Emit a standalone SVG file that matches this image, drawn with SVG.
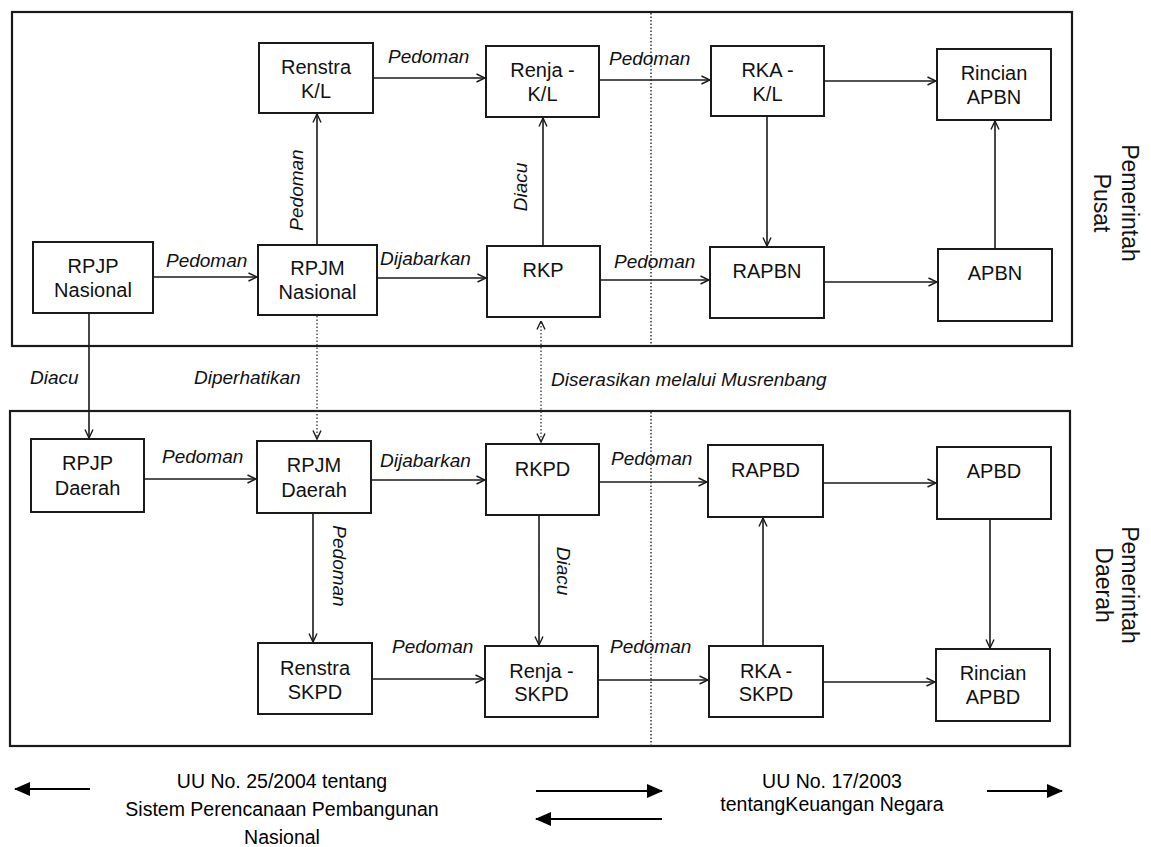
<svg xmlns="http://www.w3.org/2000/svg" width="1151" height="847" viewBox="0 0 1151 847">
<style>
.box{fill:#fff;stroke:#1a1a1a;stroke-width:2}
.frame{fill:none;stroke:#1a1a1a;stroke-width:2.2}
.nt{font-family:"Liberation Sans",Arial,sans-serif;font-size:20px;fill:#111;text-anchor:middle}
.lb{font-family:"Liberation Sans",Arial,sans-serif;font-size:19px;font-style:italic;fill:#111}
.lbm{font-family:"Liberation Sans",Arial,sans-serif;font-size:19px;font-style:italic;fill:#111;text-anchor:middle}
.side{font-family:"Liberation Sans",Arial,sans-serif;font-size:23px;fill:#111;text-anchor:middle}
.ft{font-family:"Liberation Sans",Arial,sans-serif;font-size:19.5px;fill:#000;text-anchor:middle}
.c{fill:none;stroke:#1a1a1a;stroke-width:1.6;marker-end:url(#ah)}
.d{fill:none;stroke:#333;stroke-width:1.3;stroke-dasharray:1.5 2;marker-end:url(#ah)}
.sep{fill:none;stroke:#333;stroke-width:1.5;stroke-dasharray:1.5 2}
.fa{fill:none;stroke:#000;stroke-width:2;marker-end:url(#fh)}
</style>
<defs>
<marker id="ah" viewBox="0 0 10 10" refX="9.5" refY="5" markerWidth="10" markerHeight="10" markerUnits="userSpaceOnUse" orient="auto">
<path d="M1,1 L9.5,5 L1,9" fill="none" stroke="#1a1a1a" stroke-width="1.4"/>
</marker>
<marker id="fh" viewBox="0 0 16 14" refX="15" refY="7" markerWidth="16" markerHeight="14" markerUnits="userSpaceOnUse" orient="auto">
<path d="M0,0 L16,7 L0,14 Z" fill="#000"/>
</marker>
</defs>
<rect width="1151" height="847" fill="#fff"/>

<g id="frames">
<rect class="frame" x="12" y="12" width="1060" height="334"/>
<rect class="frame" x="10" y="411" width="1060" height="335"/>
<line class="sep" x1="651" y1="13" x2="651" y2="346"/>
<line class="sep" x1="651" y1="412" x2="651" y2="748"/>
</g>

<g id="connectors">
<line class="c" x1="153" y1="277" x2="257" y2="277"/>
<line class="c" x1="377" y1="278" x2="486" y2="278"/>
<line class="c" x1="600" y1="280" x2="709" y2="280"/>
<line class="c" x1="824" y1="282" x2="937" y2="282"/>
<line class="c" x1="995" y1="249" x2="995" y2="121"/>
<line class="c" x1="824" y1="81" x2="936" y2="81"/>
<line class="c" x1="767" y1="116" x2="767" y2="246"/>
<line class="c" x1="599" y1="80" x2="710" y2="80"/>
<line class="c" x1="373" y1="78" x2="485" y2="78"/>
<line class="c" x1="317" y1="245" x2="317" y2="114"/>
<line class="c" x1="543" y1="246" x2="543" y2="118"/>
<line class="c" x1="89" y1="313" x2="89" y2="438"/>
<line class="d" x1="317" y1="316" x2="317" y2="439"/>
<line class="d" x1="541" y1="380" x2="541" y2="321"/>
<line class="d" x1="541" y1="380" x2="541" y2="442"/>
<line class="c" x1="144" y1="479" x2="256" y2="479"/>
<line class="c" x1="371" y1="480" x2="485" y2="480"/>
<line class="c" x1="599" y1="482" x2="707" y2="482"/>
<line class="c" x1="823" y1="483" x2="936" y2="483"/>
<line class="c" x1="990" y1="519" x2="990" y2="648"/>
<line class="c" x1="313" y1="513" x2="313" y2="642"/>
<line class="c" x1="539" y1="515" x2="539" y2="645"/>
<line class="c" x1="372" y1="679" x2="484" y2="679"/>
<line class="c" x1="598" y1="680" x2="708" y2="680"/>
<line class="c" x1="763" y1="646" x2="763" y2="518"/>
<line class="c" x1="823" y1="682" x2="935" y2="682"/>
</g>

<g id="labels">
<text class="lb" x="388" y="63">Pedoman</text>
<text class="lb" x="609" y="65">Pedoman</text>
<text class="lb" x="166" y="267">Pedoman</text>
<text class="lb" x="380" y="265">Dijabarkan</text>
<text class="lb" x="614" y="268">Pedoman</text>
<text class="lbm" transform="translate(303,190) rotate(-90)">Pedoman</text>
<text class="lbm" transform="translate(527,187) rotate(-90)">Diacu</text>
<text class="lb" x="30" y="384">Diacu</text>
<text class="lb" x="194" y="384">Diperhatikan</text>
<text class="lb" x="551" y="386">Diserasikan melalui Musrenbang</text>
<text class="lb" x="162" y="463">Pedoman</text>
<text class="lb" x="380" y="467">Dijabarkan</text>
<text class="lb" x="611" y="465">Pedoman</text>
<text class="lbm" transform="translate(333,566) rotate(90)">Pedoman</text>
<text class="lbm" transform="translate(557,571) rotate(90)">Diacu</text>
<text class="lb" x="392" y="653">Pedoman</text>
<text class="lb" x="610" y="653">Pedoman</text>
<text class="side" transform="translate(1122,203) rotate(90)">Pemerintah</text>
<text class="side" transform="translate(1094,203) rotate(90)">Pusat</text>
<text class="side" transform="translate(1122,585) rotate(90)">Pemerintah</text>
<text class="side" transform="translate(1096,585) rotate(90)">Daerah</text>
</g>

<g id="renstra-kl"><rect class="box" x="259" y="43" width="114" height="70"/><text class="nt" x="316" y="74">Renstra</text><text class="nt" x="316" y="98">K/L</text></g>
<g id="renja-kl"><rect class="box" x="486" y="46" width="113" height="71"/><text class="nt" x="542.5" y="77">Renja -</text><text class="nt" x="542.5" y="101">K/L</text></g>
<g id="rka-kl"><rect class="box" x="711" y="46" width="113" height="70"/><text class="nt" x="767.5" y="77">RKA -</text><text class="nt" x="767.5" y="101">K/L</text></g>
<g id="rincian-apbn"><rect class="box" x="937" y="49" width="114" height="71"/><text class="nt" x="994" y="80">Rincian</text><text class="nt" x="994" y="104">APBN</text></g>
<g id="rpjp-nasional"><rect class="box" x="33" y="242" width="120" height="71"/><text class="nt" x="93" y="273">RPJP</text><text class="nt" x="93" y="297">Nasional</text></g>
<g id="rpjm-nasional"><rect class="box" x="258" y="245" width="119" height="70"/><text class="nt" x="317.5" y="275">RPJM</text><text class="nt" x="317.5" y="299">Nasional</text></g>
<g id="rkp"><rect class="box" x="487" y="246" width="113" height="71"/><text class="nt" x="543" y="277">RKP</text></g>
<g id="rapbn"><rect class="box" x="710" y="247" width="114" height="71"/><text class="nt" x="767" y="278">RAPBN</text></g>
<g id="apbn"><rect class="box" x="938" y="249" width="114" height="72"/><text class="nt" x="995" y="280">APBN</text></g>

<g id="rpjp-daerah"><rect class="box" x="31" y="439" width="113" height="73"/><text class="nt" x="87.5" y="470">RPJP</text><text class="nt" x="87.5" y="495">Daerah</text></g>
<g id="rpjm-daerah"><rect class="box" x="257" y="441" width="114" height="72"/><text class="nt" x="314" y="472">RPJM</text><text class="nt" x="314" y="497">Daerah</text></g>
<g id="rkpd"><rect class="box" x="486" y="444" width="113" height="71"/><text class="nt" x="542.5" y="476">RKPD</text></g>
<g id="rapbd"><rect class="box" x="708" y="445" width="115" height="72"/><text class="nt" x="765.5" y="477">RAPBD</text></g>
<g id="apbd"><rect class="box" x="937" y="447" width="114" height="72"/><text class="nt" x="994" y="478">APBD</text></g>
<g id="renstra-skpd"><rect class="box" x="258" y="643" width="114" height="71"/><text class="nt" x="315" y="675">Renstra</text><text class="nt" x="315" y="699">SKPD</text></g>
<g id="renja-skpd"><rect class="box" x="485" y="646" width="113" height="71"/><text class="nt" x="541.5" y="678">Renja -</text><text class="nt" x="541.5" y="701">SKPD</text></g>
<g id="rka-skpd"><rect class="box" x="709" y="646" width="114" height="71"/><text class="nt" x="766" y="678">RKA -</text><text class="nt" x="766" y="701">SKPD</text></g>
<g id="rincian-apbd"><rect class="box" x="936" y="649" width="114" height="72"/><text class="nt" x="993" y="680">Rincian</text><text class="nt" x="993" y="704">APBD</text></g>

<g id="footer">
<line class="fa" x1="90" y1="789" x2="15" y2="789"/>
<line class="fa" x1="536" y1="791" x2="662" y2="791"/>
<line class="fa" x1="662" y1="819" x2="536" y2="819"/>
<line class="fa" x1="987" y1="791" x2="1062" y2="791"/>
<text class="ft" x="282" y="788">UU No. 25/2004 tentang</text>
<text class="ft" x="282" y="816">Sistem Perencanaan Pembangunan</text>
<text class="ft" x="282" y="844">Nasional</text>
<text class="ft" x="832" y="788">UU No. 17/2003</text>
<text class="ft" x="832" y="811">tentangKeuangan Negara</text>
</g>
</svg>
